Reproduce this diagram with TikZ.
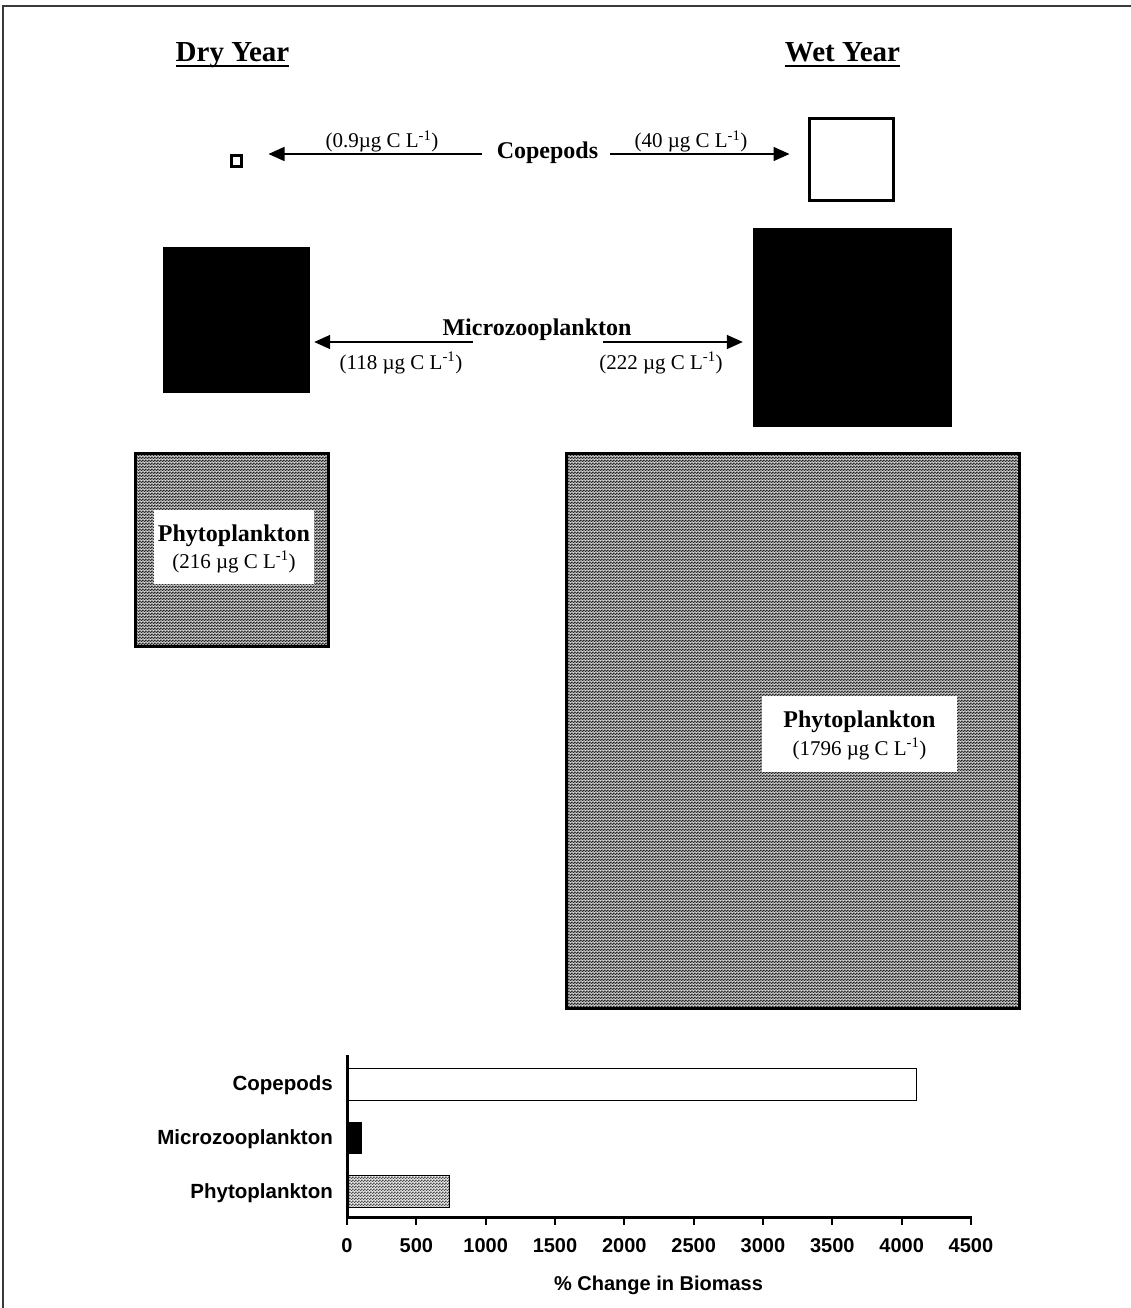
\documentclass[tikz,border=0pt]{standalone}
\usepackage{fontspec}
\setmainfont{Liberation Serif}
\newfontfamily\arialfont{Liberation Sans}
\usetikzlibrary{arrows.meta,patterns}

\definecolor{chkDark}{HTML}{262626}
\definecolor{chkLight}{HTML}{A6A6A6}
\definecolor{chkDarkB}{HTML}{4A4A4A}
\definecolor{chkLightB}{HTML}{D8D8D8}
\definecolor{frameGray}{HTML}{3A3A3A}

\pgfdeclarepatterninherentlycolored{chkA}
{\pgfpointorigin}{\pgfpoint{3pt}{3pt}}{\pgfpoint{3pt}{3pt}}
{
 \pgfsetfillcolor{chkLight}
 \pgfpathrectangle{\pgfpointorigin}{\pgfpoint{3pt}{3pt}}
 \pgfusepath{fill}
 \pgfsetfillcolor{chkDark}
 \pgfpathrectangle{\pgfpointorigin}{\pgfpoint{1.5pt}{1.5pt}}
 \pgfpathrectangle{\pgfpoint{1.5pt}{1.5pt}}{\pgfpoint{1.5pt}{1.5pt}}
 \pgfusepath{fill}
}
\pgfdeclarepatterninherentlycolored{chkB}
{\pgfpointorigin}{\pgfpoint{3pt}{3pt}}{\pgfpoint{3pt}{3pt}}
{
 \pgfsetfillcolor{chkLightB}
 \pgfpathrectangle{\pgfpointorigin}{\pgfpoint{3pt}{3pt}}
 \pgfusepath{fill}
 \pgfsetfillcolor{chkDarkB}
 \pgfpathrectangle{\pgfpointorigin}{\pgfpoint{1.5pt}{1.5pt}}
 \pgfpathrectangle{\pgfpoint{1.5pt}{1.5pt}}{\pgfpoint{1.5pt}{1.5pt}}
 \pgfusepath{fill}
}

\begin{document}
\begin{tikzpicture}[x=1pt,y=-1pt,
  hdr/.style={font=\fontsize{29}{32}\selectfont\bfseries, inner sep=0pt, anchor=base},
  lab/.style={font=\fontsize{24}{28}\selectfont\bfseries, inner sep=0pt, anchor=base},
  val/.style={font=\fontsize{21}{24}\selectfont, inner sep=0pt, anchor=base},
  arr/.style={line width=1.5pt, -{Triangle[length=16pt,width=14pt]}},
  openbox/.style={draw=black, line width=3pt, fill=white, inner sep=0pt},
  blackbox/.style={fill=black, draw=none, inner sep=0pt},
  phybox/.style={draw=black, line width=3pt, pattern=chkA, inner sep=0pt},
  whitebox/.style={fill=white, draw=none, inner sep=0pt},
  catlab/.style={font=\arialfont\fontsize{20.5}{24}\selectfont\bfseries, inner sep=0pt, anchor=base east},
  ticklab/.style={font=\arialfont\fontsize{20}{24}\selectfont\bfseries, inner sep=0pt, anchor=base},
  axtitle/.style={font=\arialfont\fontsize{20}{24}\selectfont\bfseries, inner sep=0pt, anchor=base},
  axis/.style={line width=3pt},
  bar/.style={draw=black, line width=1pt}
]
\useasboundingbox (0,0) rectangle (1131,1308);
\fill[white] (0,0) rectangle (1131,1308);

% frame
\draw[frameGray, line width=1.5pt] (3,1308) -- (3,6) -- (1131,6);

% headers
\node[hdr] (dry) at (232.5,62) {Dry Year};
\node[hdr] (wet) at (842.5,62) {Wet Year};
\draw[line width=2.5pt] ([yshift=-4pt]dry.base west) -- ([yshift=-4pt]dry.base east);
\draw[line width=2.5pt] ([yshift=-4pt]wet.base west) -- ([yshift=-4pt]wet.base east);

% copepods
\node[openbox, minimum width=10pt, minimum height=11pt] (copD) at (236,161.5) {};
\node[openbox, minimum width=84pt, minimum height=82pt] (copW) at (851.5,159.5) {};
\node[lab] (cop) at (547.5,159) {Copepods};
\node[val] (copDv) at (382,148) {(0.9µg C L\textsuperscript{-1})};
\node[val] (copWv) at (691,148) {(40 µg C L\textsuperscript{-1})};
\coordinate (c1) at (482,154);
\coordinate (c2) at (610,154);
\draw[arr, shorten >=26pt] (c1) -- (c1 -| copD.east);
\draw[arr, shorten >=18.5pt] (c2) -- (c2 -| copW.west);

% microzooplankton
\node[blackbox, minimum width=147pt, minimum height=146pt] (micD) at (236.5,320) {};
\node[blackbox, minimum width=199pt, minimum height=199pt] (micW) at (852.5,327.5) {};
\node[lab] (mic) at (537,335) {Microzooplankton};
\node[val] (micDv) at (401,369) {(118 µg C L\textsuperscript{-1})};
\node[val] (micWv) at (661,369) {(222 µg C L\textsuperscript{-1})};
\coordinate (m1) at (473,342);
\coordinate (m2) at (603,342);
\draw[arr, shorten >=4pt] (m1) -- (m1 -| micD.east);
\draw[arr, shorten >=10pt] (m2) -- (m2 -| micW.west);

% phytoplankton
\node[phybox, minimum width=193pt, minimum height=193pt] (phyD) at (232,550) {};
\node[phybox, minimum width=453pt, minimum height=555pt] (phyW) at (793,731) {};
\node[whitebox, minimum width=160pt, minimum height=74pt] (phyDw) at (234,547) {};
\node[whitebox, minimum width=195pt, minimum height=76pt] (phyWw) at (859.5,734) {};
\node[lab] (phyDl) at (234,541) {Phytoplankton};
\node[val] (phyDv) at (234,568) {(216 µg C L\textsuperscript{-1})};
\node[lab] (phyWl) at (859.5,727) {Phytoplankton};
\node[val] (phyWv) at (859.5,755) {(1796 µg C L\textsuperscript{-1})};

% bar chart
\fill[white] (347,1068) rectangle (916,1100);
\draw[bar] (347,1068) rectangle (916,1100);
\fill[black] (347,1122) rectangle (361,1153);
\draw[bar] (347,1122) rectangle (361,1153);
\fill[pattern=chkB] (347,1175) rectangle (449,1207);
\draw[bar] (347,1175) rectangle (449,1207);
\draw[axis] (347,1055) -- (347,1217) -- (971,1217);
\foreach \i in {0,...,9} {
  \pgfmathtruncatemacro\tv{500*\i}
  \draw[line width=2pt] (347+69.33*\i,1216) -- (347+69.33*\i,1225);
  \node[ticklab] (t\i) at (347+69.33*\i,1252) {\tv};
}
\node[catlab] (bc) at (333,1090) {Copepods};
\node[catlab] (bm) at (333,1144) {Microzooplankton};
\node[catlab] (bp) at (333,1198) {Phytoplankton};
\node[axtitle] (xt) at (658.5,1290) {\% Change in Biomass};
\end{tikzpicture}
\end{document}
